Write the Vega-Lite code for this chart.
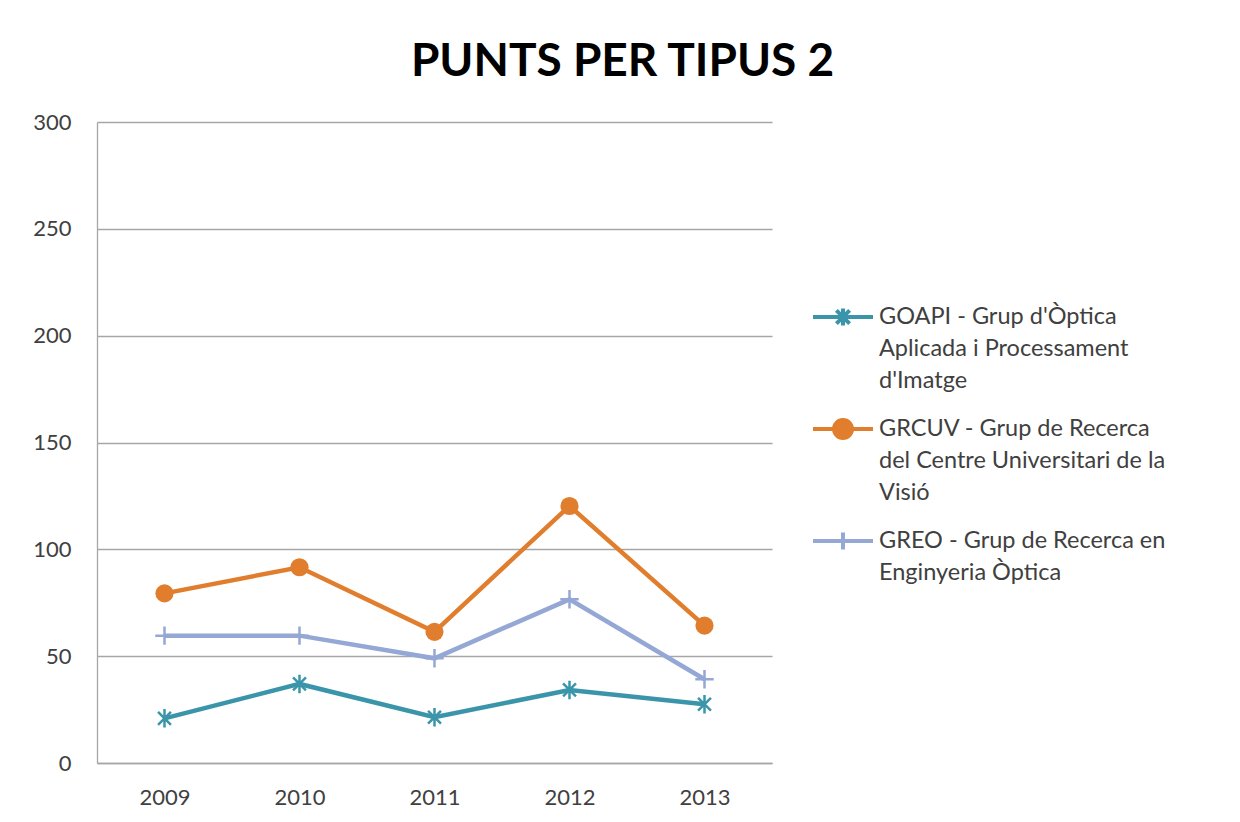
{
  "$schema": "https://vega.github.io/schema/vega-lite/v6.json",
  "width": 675,
  "height": 641,
  "autosize": {"type": "none"},
  "padding": {"left": 97, "top": 122, "right": 468, "bottom": 59},
  "background": "white",
  "title": {
    "text": "PUNTS PER TIPUS 2",
    "font": "Lato",
    "fontSize": 46,
    "fontWeight": "bold",
    "color": "#000000",
    "anchor": "middle",
    "frame": "group",
    "dx": 188,
    "dy": 45,
    "baseline": "alphabetic",
    "offset": 34
  },
  "config": {
    "font": "Lato",
    "view": {"stroke": null},
    "axis": {
      "labelFont": "Lato",
      "labelFontSize": 22,
      "labelColor": "#404040",
      "domainColor": "#a6a6a6",
      "gridColor": "#a6a6a6",
      "gridWidth": 1.3,
      "domainWidth": 1.3,
      "ticks": false,
      "title": null
    },
    "legend": {"labelFont": "Lato", "labelFontSize": 23.5, "labelColor": "#404040"}
  },
  "data": {
    "values": [
      {"year": "2009", "series": "GOAPI - Grup d'Òptica Aplicada i Processament d'Imatge", "value": 20.9},
      {"year": "2010", "series": "GOAPI - Grup d'Òptica Aplicada i Processament d'Imatge", "value": 37},
      {"year": "2011", "series": "GOAPI - Grup d'Òptica Aplicada i Processament d'Imatge", "value": 21.4},
      {"year": "2012", "series": "GOAPI - Grup d'Òptica Aplicada i Processament d'Imatge", "value": 34.2},
      {"year": "2013", "series": "GOAPI - Grup d'Òptica Aplicada i Processament d'Imatge", "value": 27.5},
      {"year": "2009", "series": "GRCUV - Grup de Recerca del Centre Universitari de la Visió", "value": 79.4},
      {"year": "2010", "series": "GRCUV - Grup de Recerca del Centre Universitari de la Visió", "value": 91.6},
      {"year": "2011", "series": "GRCUV - Grup de Recerca del Centre Universitari de la Visió", "value": 61.4},
      {"year": "2012", "series": "GRCUV - Grup de Recerca del Centre Universitari de la Visió", "value": 120.3},
      {"year": "2013", "series": "GRCUV - Grup de Recerca del Centre Universitari de la Visió", "value": 64.3},
      {"year": "2009", "series": "GREO - Grup de Recerca en Enginyeria Òptica", "value": 59.6},
      {"year": "2010", "series": "GREO - Grup de Recerca en Enginyeria Òptica", "value": 59.6},
      {"year": "2011", "series": "GREO - Grup de Recerca en Enginyeria Òptica", "value": 49},
      {"year": "2012", "series": "GREO - Grup de Recerca en Enginyeria Òptica", "value": 76.6},
      {"year": "2013", "series": "GREO - Grup de Recerca en Enginyeria Òptica", "value": 39.2}
    ]
  },
  "encoding": {
    "x": {
      "field": "year",
      "type": "ordinal",
      "scale": {"type": "point", "padding": 0.5},
      "axis": {"labelAngle": 0, "labelPadding": 24, "grid": false}
    },
    "y": {
      "field": "value",
      "type": "quantitative",
      "scale": {"domain": [0, 300], "nice": false},
      "axis": {"values": [0, 50, 100, 150, 200, 250, 300], "labelPadding": 26, "grid": true}
    }
  },
  "layer": [
    {
      "mark": {"type": "line", "strokeWidth": 4.5},
      "encoding": {
        "color": {
          "field": "series",
          "type": "nominal",
          "scale": {
            "domain": [
              "GOAPI - Grup d'Òptica Aplicada i Processament d'Imatge",
              "GRCUV - Grup de Recerca del Centre Universitari de la Visió",
              "GREO - Grup de Recerca en Enginyeria Òptica"
            ],
            "range": ["#3a95aa", "#e17e2e", "#94a7d5"]
          },
          "legend": {
            "title": null,
            "orient": "none",
            "legendX": 714,
            "legendY": 163,
            "symbolSize": 3600,
            "labelOffset": 4,
            "labelLimit": 400,
            "rowPadding": 4,
            "labelExpr": "indexof(datum.label, 'GOAPI') == 0 ? ['GOAPI - Grup d\\'Òptica', 'Aplicada i Processament', 'd\\'Imatge'] : indexof(datum.label, 'GRCUV') == 0 ? ['GRCUV - Grup de Recerca', 'del Centre Universitari de la', 'Visió'] : ['GREO - Grup de Recerca en', 'Enginyeria Òptica']",
            "encode": {
              "labels": {"update": {"lineHeight": {"value": 32}}},
              "symbols": {
                "update": {
                  "shape": {"signal": "indexof(datum.value, 'GOAPI') == 0 ? 'M-1,0H1M-0.22,-0.22L0.22,0.22M-0.22,0.22L0.22,-0.22M0,-0.28V0.28' : indexof(datum.value, 'GRCUV') == 0 ? 'M-1,0H1M0.3,0A0.3,0.3,0,1,1,-0.3,0A0.3,0.3,0,1,1,0.3,0Z' : 'M-1,0H1M0,-0.28V0.28'"},
                  "fill": {"scale": "color", "field": "value"},
                  "stroke": {"scale": "color", "field": "value"},
                  "strokeWidth": {"value": 4},
                  "opacity": {"value": 1}
                }
              }
            }
          }
        }
      }
    },
    {
      "transform": [{"filter": "datum.series == \"GOAPI - Grup d'Òptica Aplicada i Processament d'Imatge\""}],
      "mark": {"type": "point", "shape": "M-0.7,-0.7L0.7,0.7M-0.7,0.7L0.7,-0.7M0,-1V1", "filled": false, "stroke": "#3a95aa", "strokeWidth": 2.5, "opacity": 1, "size": 340},
      "encoding": {}
    },
    {
      "transform": [{"filter": "datum.series == 'GRCUV - Grup de Recerca del Centre Universitari de la Visió'"}],
      "mark": {"type": "point", "shape": "circle", "filled": true, "fill": "#e17e2e", "opacity": 1, "size": 330},
      "encoding": {}
    },
    {
      "transform": [{"filter": "datum.series == 'GREO - Grup de Recerca en Enginyeria Òptica'"}],
      "mark": {"type": "point", "shape": "M-1,0H1M0,-1V1", "filled": false, "stroke": "#94a7d5", "strokeWidth": 2.5, "opacity": 1, "size": 340},
      "encoding": {}
    }
  ]
}
